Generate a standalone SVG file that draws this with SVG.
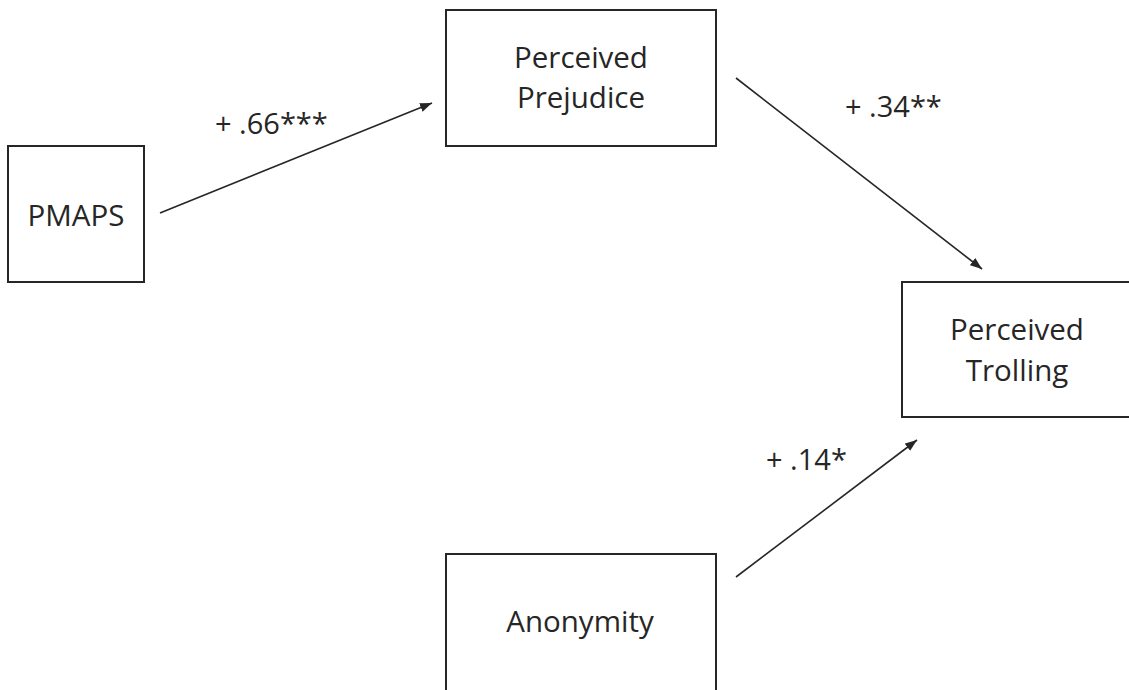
<svg xmlns="http://www.w3.org/2000/svg" width="1129" height="690" viewBox="0 0 1129 690">
<style>
.box{fill:#fff;stroke:#262626;stroke-width:2}
.t{font-family:"Open Sans","Liberation Sans",sans-serif;font-size:29.5px;fill:#262626;text-anchor:middle}
.l{font-family:"Open Sans","Liberation Sans",sans-serif;font-size:29px;fill:#262626}
.c{stroke:#262626;stroke-width:1.6;fill:none;marker-end:url(#ah)}
</style>
<defs>
<marker id="ah" markerUnits="userSpaceOnUse" markerWidth="13" markerHeight="10" refX="12" refY="4.5" orient="auto">
<path d="M0,0 L12,4.5 L0,9 z" fill="#262626"/>
</marker>
</defs>
<rect width="1129" height="690" fill="#fff"/>
<g id="pmaps"><rect class="box" x="8" y="146" width="136" height="136"/><text class="t" x="76" y="226">PMAPS</text></g>
<g id="prejudice"><rect class="box" x="446" y="10" width="270" height="136"/><text class="t" x="581" y="68">Perceived</text><text class="t" x="581" y="108">Prejudice</text></g>
<g id="trolling"><rect class="box" x="902" y="282" width="240" height="135"/><text class="t" x="1017" y="340">Perceived</text><text class="t" x="1017" y="381">Trolling</text></g>
<g id="anonymity"><rect class="box" x="446" y="554" width="270" height="140"/><text class="t" x="580" y="632">Anonymity</text></g>
<g id="connectors">
<line class="c" x1="160" y1="213" x2="432" y2="103"/>
<line class="c" x1="736" y1="78" x2="982" y2="269"/>
<line class="c" x1="736" y1="577" x2="917" y2="440"/>
<text class="l" x="215" y="134">+ .66***</text>
<text class="l" x="845" y="117">+ .34**</text>
<text class="l" x="766" y="470">+ .14*</text>
</g>
</svg>
